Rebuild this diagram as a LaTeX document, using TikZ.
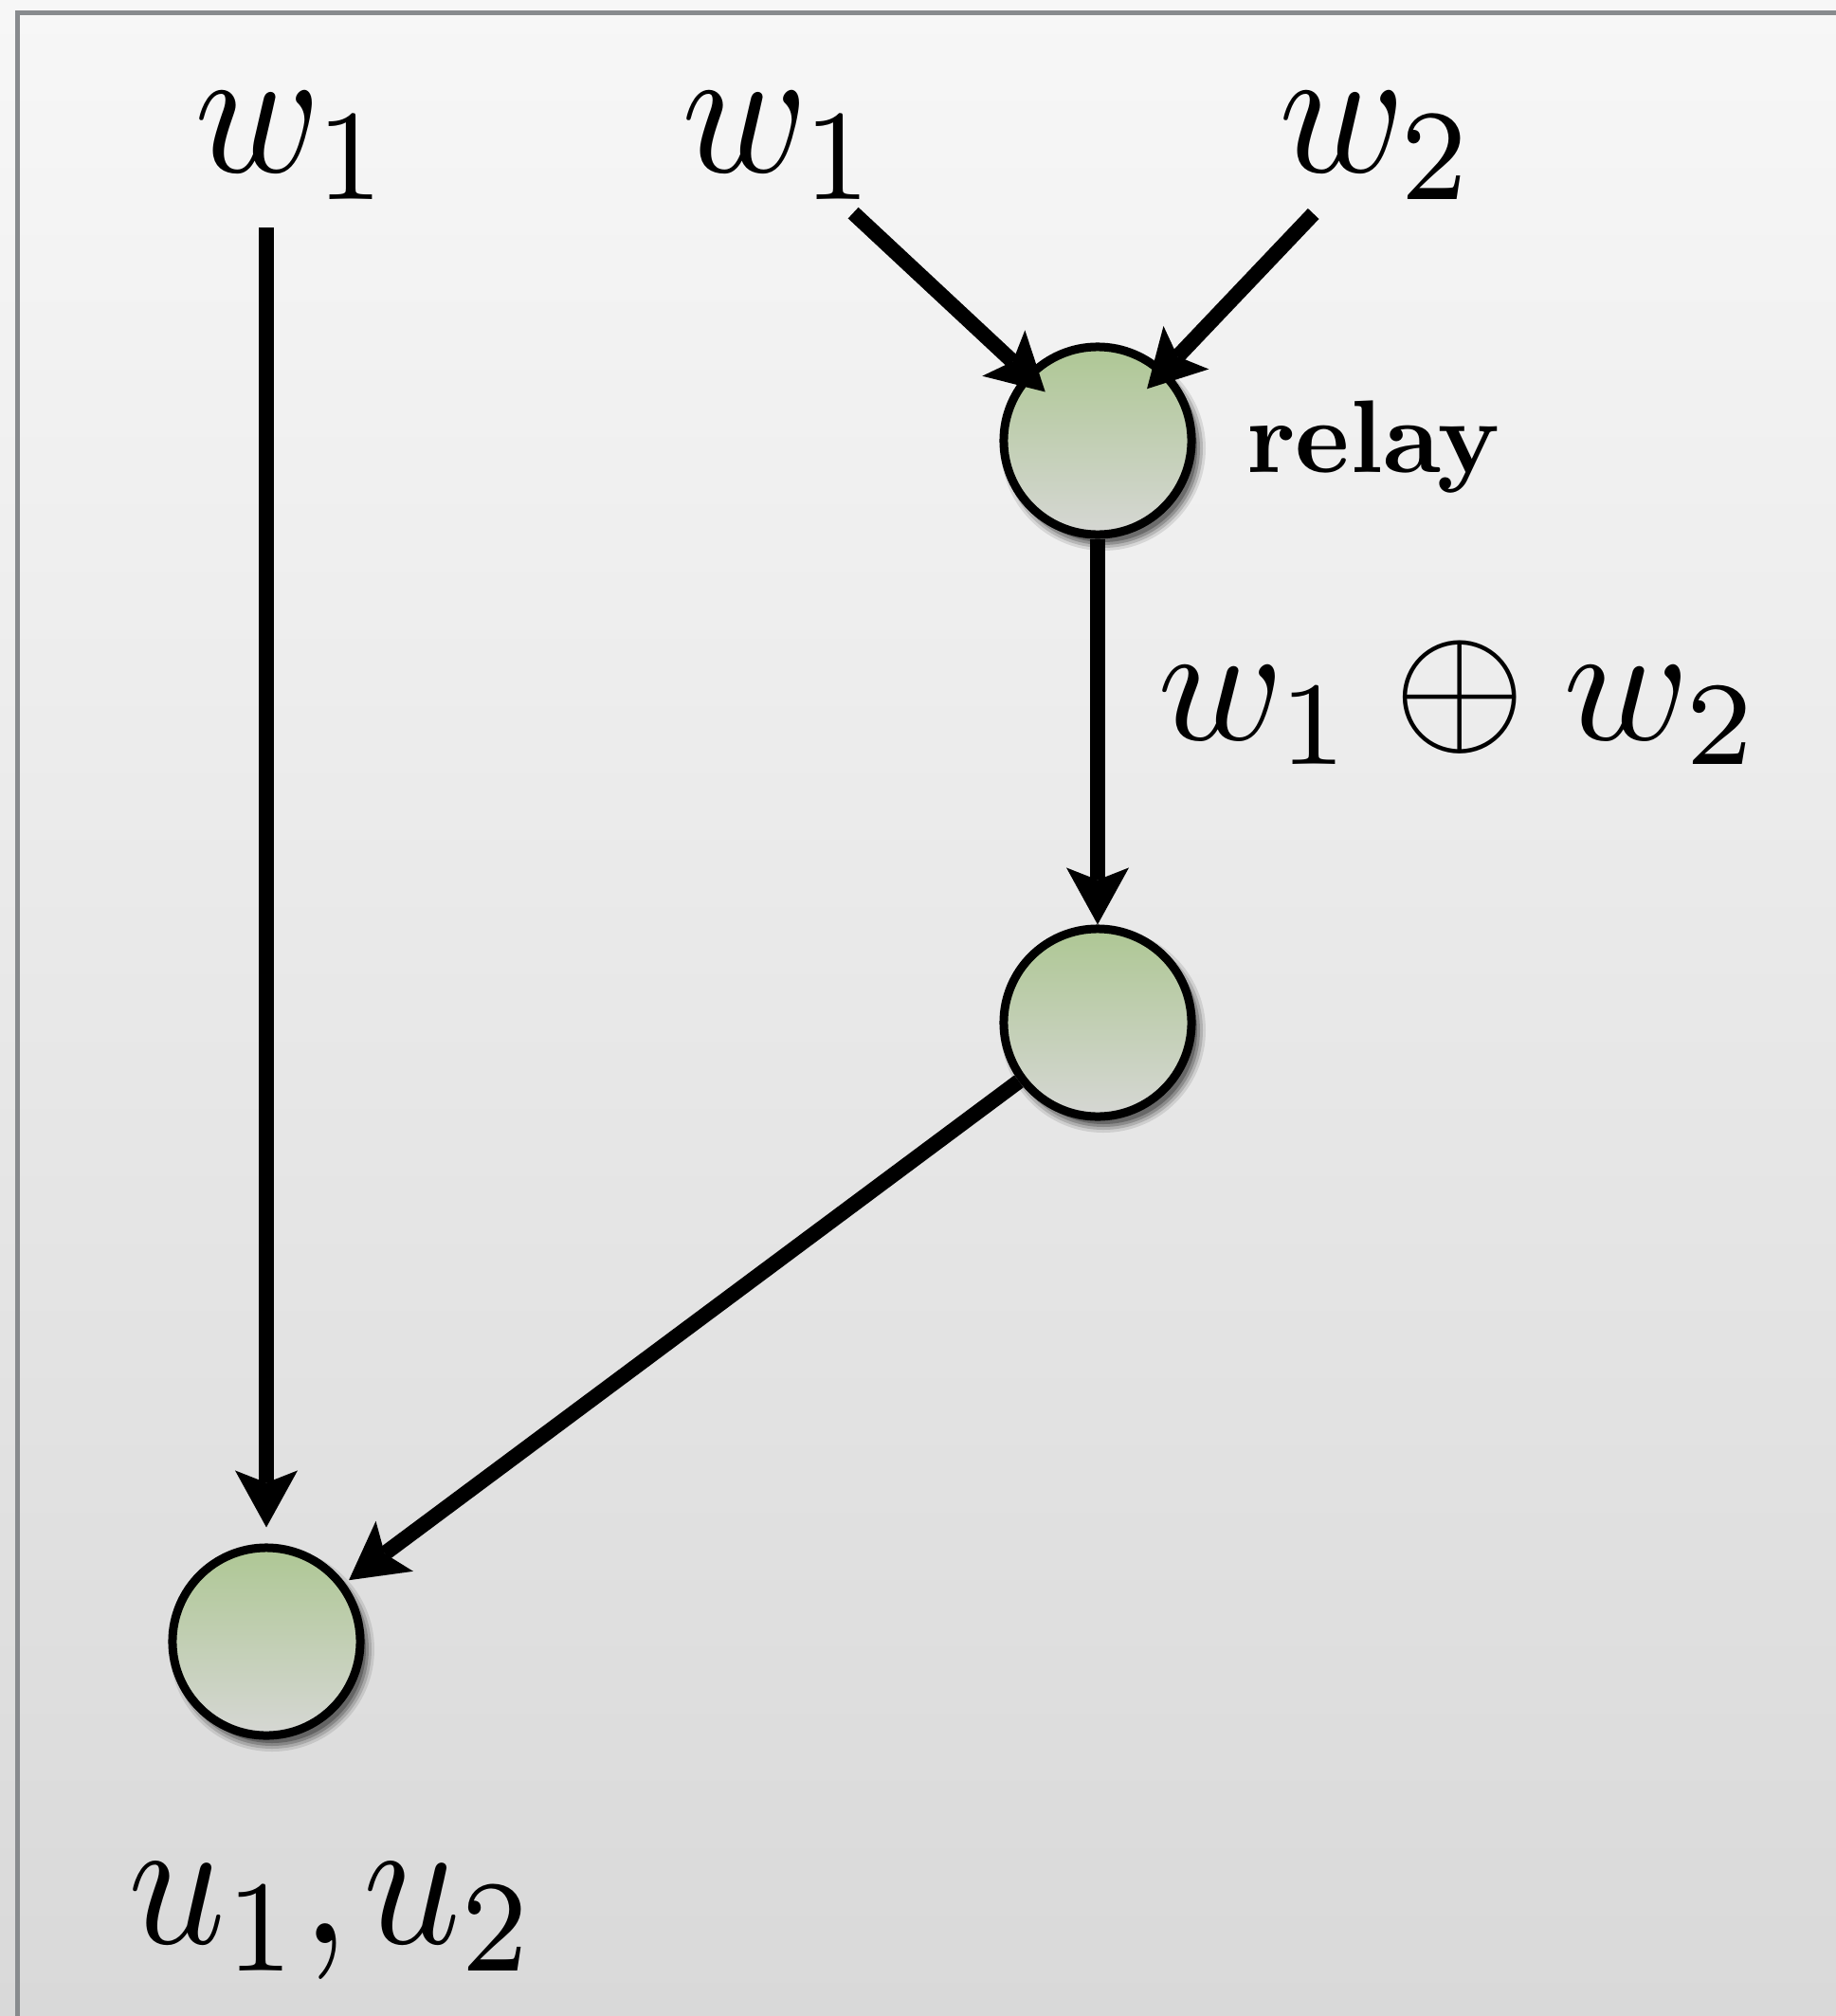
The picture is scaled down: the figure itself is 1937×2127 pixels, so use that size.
\documentclass[tikz,border=0pt]{standalone}
\usepackage{graphicx}
\usetikzlibrary{arrows.meta,calc}
\definecolor{framegray}{RGB}{136,139,142}
\definecolor{bgtop}{RGB}{247,247,247}
\definecolor{bgbot}{RGB}{217,217,217}
\definecolor{nodetop}{RGB}{174,199,148}
\definecolor{nodebot}{RGB}{214,215,212}
\begin{document}
\begin{tikzpicture}[x=0.01cm,y=-0.01cm,
  conn/.style={line width=0.16cm,
    -{Stealth[length=0.6cm,width=0.66cm,inset=0.13cm,line width=0pt]}},
  netnode/.style={circle, draw=black, line width=0.09cm, minimum size=1.98cm,
    inner sep=0pt, top color=nodetop, bottom color=nodebot},
  lbl/.style={inner sep=0pt, anchor=base}]

% background and frame
\useasboundingbox (0,0) rectangle (1937,2127);
\shade[top color=bgtop, bottom color=bgbot] (0,0) rectangle (1937,2127);
\draw[framegray, line width=0.05cm] (18.5,2127) -- (18.5,13.5) -- (1937,13.5);

% node positions
\coordinate (p1) at (1158,465);
\coordinate (p2) at (1158,1079);
\coordinate (p3) at (281,1732);

% soft drop shadows
\foreach \pos in {p1,p2,p3}{
  \foreach \r/\o in {108/0.10, 105/0.15, 102/0.20, 99/0.25}
    \fill[black, fill opacity=\o] ($(\pos)+(6,8)$) circle (\r);
}

% nodes
\node[netnode] (relay) at (p1) {};
\node[netnode] (mid) at (p2) {};
\node[netnode] (dest) at (p3) {};

% labels
\node[lbl] (wa) at (310,181) {\scalebox{5.1}[5.55]{$w_1$}};
\node[lbl] (wb) at (824,181) {\scalebox{5.1}[5.55]{$w_1$}};
\node[lbl] (wc) at (1454,181) {\scalebox{5.1}[5.55]{$w_2$}};
\node[lbl] (rl) at (1449,498) {\scalebox{3.1}{\textbf{relay}}};
\node[lbl] (sum) at (1540,780) {\scalebox{5.1}{$w_1\oplus w_2$}};
\node[lbl] (ul) at (351,2050) {\scalebox{5.1}[5.6]{$u_1{,}\mkern1.5mu u_2$}};

% connectors
\coordinate (s0) at (281,240);
\draw[conn, shorten >=0.17cm] (s0) -- (dest);
\draw[conn, shorten <=0.2cm, shorten >=-0.28cm] (wb) -- (relay);
\draw[conn, shorten <=0.2cm, shorten >=-0.28cm] (wc) -- (relay);
\draw[conn] (relay) -- (mid);
\draw[conn, shorten >=0.05cm] (mid) -- (dest);
\end{tikzpicture}
\end{document}
